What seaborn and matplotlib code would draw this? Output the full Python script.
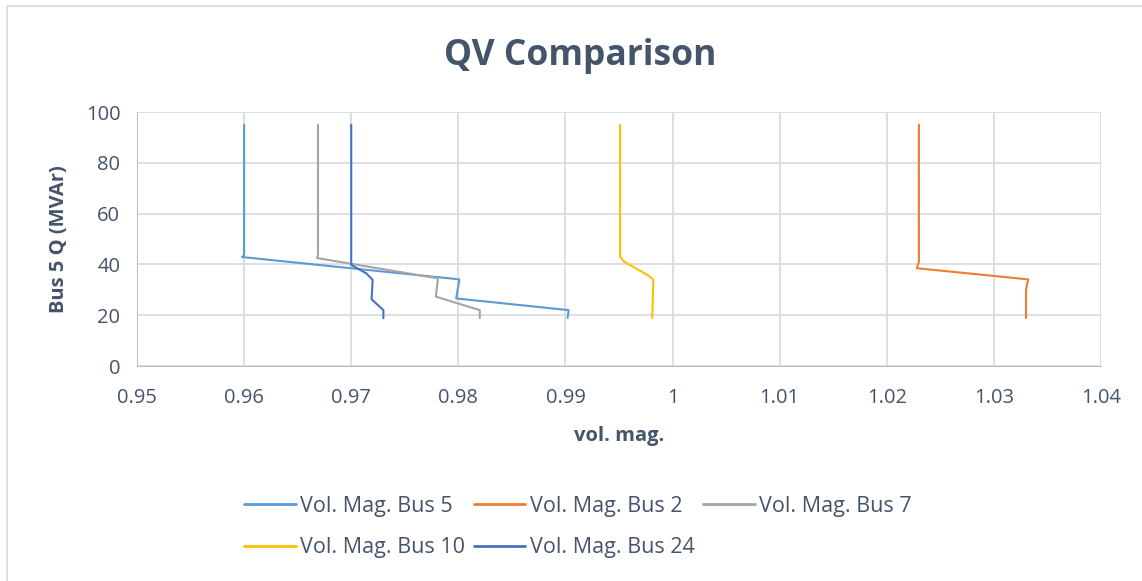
import pandas as pd
import matplotlib.pyplot as plt
import seaborn as sns
from matplotlib.lines import Line2D

# Q (MVAr) vs voltage magnitude
q_bus5 = [95, 43.5, 42.9, 34.1, 26.6, 22.0, 18.9]
v_bus5 = [0.960, 0.960, 0.9598, 0.9801, 0.9798, 0.9903, 0.9902]

q_bus2 = [95, 41.0, 38.5, 34.1, 30.0, 18.9]
v_bus2 = [1.0230, 1.0230, 1.0228, 1.0332, 1.0330, 1.0330]

q_bus7 = [95, 43.5, 42.5, 34.5, 27.3, 22.0, 18.9]
v_bus7 = [0.9669, 0.9669, 0.9668, 0.9781, 0.9779, 0.9820, 0.9820]

q_bus10 = [95, 43.0, 41.0, 35.5, 33.9, 18.9]
v_bus10 = [0.9951, 0.9951, 0.9955, 0.9978, 0.9982, 0.9981]

q_bus24 = [95, 39.8, 36.5, 33.9, 26.3, 22.0, 18.8]
v_bus24 = [0.9700, 0.9700, 0.9714, 0.9720, 0.9719, 0.9730, 0.9730]

series_names = ['Vol. Mag. Bus 5', 'Vol. Mag. Bus 2', 'Vol. Mag. Bus 7',
                'Vol. Mag. Bus 10', 'Vol. Mag. Bus 24']
series_colors = ['#5B9BD5', '#ED7D31', '#A5A5A5', '#FFC000', '#4472C4']
x_ticks = [0.95, 0.96, 0.97, 0.98, 0.99, 1.00, 1.01, 1.02, 1.03, 1.04]
x_tick_labels = ['0.95', '0.96', '0.97', '0.98', '0.99', '1', '1.01', '1.02', '1.03', '1.04']
y_ticks = [0, 20, 40, 60, 80, 100]

frames = []
for name, v, q in zip(series_names,
                      [v_bus5, v_bus2, v_bus7, v_bus10, v_bus24],
                      [q_bus5, q_bus2, q_bus7, q_bus10, q_bus24]):
    frames.append(pd.DataFrame({'vol': v, 'Q': q, 'series': name}))
df = pd.concat(frames, ignore_index=True)

sns.set_style('white')
plt.rcParams['font.family'] = ['Open Sans', 'DejaVu Sans']

text_col = '#44546A'
grid_col = '#D9DDE3'

fig = plt.figure(figsize=(11.42, 5.81), dpi=100)
ax = fig.add_axes([137 / 1142, 1 - 366 / 581, (1101 - 137) / 1142, (366 - 112) / 581])

for name, col in zip(series_names, series_colors):
    d = df[df['series'] == name]
    sns.lineplot(x='vol', y='Q', data=d, sort=False, estimator=None, color=col,
                 linewidth=1.5, ax=ax, legend=False)

ax.set_xlim(0.95, 1.04)
ax.set_ylim(0, 100)
ax.set_xticks(x_ticks)
ax.set_xticklabels(x_tick_labels)
ax.set_yticks(y_ticks)
ax.grid(True, color=grid_col, linewidth=1.3)
ax.set_axisbelow(True)
for side in ['top', 'right']:
    ax.spines[side].set_visible(False)
ax.spines['left'].set_color('#BFBFBF')
ax.spines['bottom'].set_color('#BFBFBF')
ax.tick_params(axis='both', length=0, labelsize=14.5, colors=text_col)
ax.tick_params(axis='x', pad=16)
ax.tick_params(axis='y', pad=12)

ax.set_xlabel('vol. mag.', fontsize=14.5, fontweight='bold', color=text_col, labelpad=13)
ax.set_ylabel('Bus 5 Q (MVAr)', fontsize=14.5, fontweight='bold', color=text_col, labelpad=12)
fig.text(0.508, 1 - 56 / 581, 'QV Comparison', fontsize=25.5, fontweight='bold',
         color=text_col, ha='center', va='center')

# legend: column-major fill so rows read 5, 2, 7 / 10, 24
handles = [Line2D([0], [0], color=c, linewidth=2) for c in series_colors]
order = [0, 3, 1, 4, 2]
fig.legend([handles[i] for i in order], [series_names[i] for i in order],
           loc='center', bbox_to_anchor=(0.506, 1 - 527 / 581), ncol=3, frameon=False,
           fontsize=15.5, handlelength=2.4, handletextpad=0.2, columnspacing=0.4,
           labelspacing=0.95, labelcolor=text_col)

# chart area border (top and left visible)
fig.add_artist(Line2D([7 / 1142, 1], [1 - 6 / 581, 1 - 6 / 581], color='#D9D9D9',
                      linewidth=1.2, transform=fig.transFigure))
fig.add_artist(Line2D([7 / 1142, 7 / 1142], [0, 1 - 6 / 581], color='#D9D9D9',
                      linewidth=1.2, transform=fig.transFigure))

fig.savefig('out.png', dpi=100, facecolor='white')
